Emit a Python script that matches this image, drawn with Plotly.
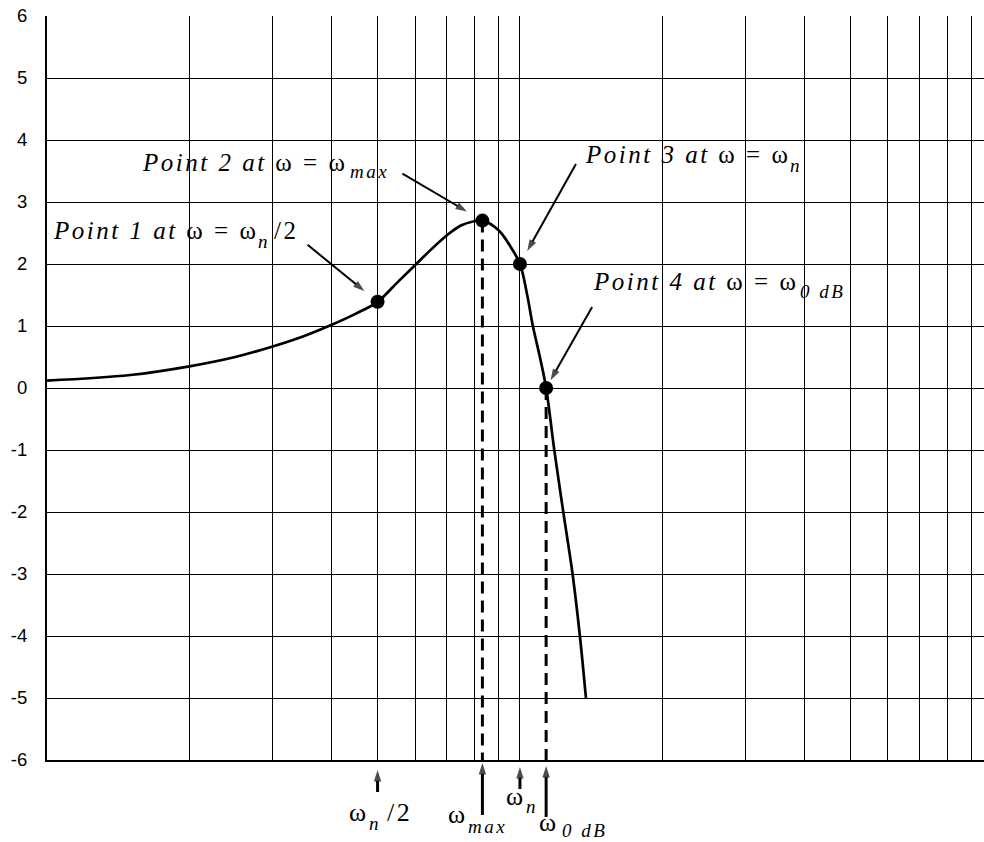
import math
import plotly.graph_objects as go

# Closed-loop magnitude response: frequency (rad/s) and gain (dB)
omega = [1.0, 1.5, 2.0, 2.5, 3.0, 3.5, 4.0, 4.5, 5.0, 5.5, 6.0, 6.5, 7.0, 7.5,
         8.0, 8.33, 9.0, 9.5, 10.0, 10.36, 10.65, 11.02, 11.36, 11.82, 12.35,
         12.92, 13.39, 13.79]
mag_db = [0.12, 0.21, 0.35, 0.50, 0.67, 0.84, 1.02, 1.20, 1.39, 1.70, 1.98, 2.24,
          2.46, 2.62, 2.69, 2.70, 2.55, 2.31, 2.00, 1.50, 1.00, 0.50, 0.00, -1.00,
          -2.00, -3.00, -4.00, -5.00]

# Marked points: wn/2, w_max, wn, w_0dB
point_omega = [5.0, 8.33, 10.0, 11.36]
point_db = [1.39, 2.70, 2.00, 0.00]

# Axis ticks
x_ticks = [1, 2, 3, 4, 5, 6, 7, 8, 9, 10, 20, 30, 40, 50, 60, 70, 80, 90]
y_ticks = [-6, -5, -4, -3, -2, -1, 0, 1, 2, 3, 4, 5, 6]
y_min, y_max = -6, 6

# Label pieces: (text, left edge px, baseline px, font size); subscripts are
# set as their own smaller pieces, dropped below the baseline.
point_label_parts = [
    [("<i>Point 1 at </i>ω = ω", 51.7, 239.3, 25), ("<i>n</i>", 257, 248, 19),
     ("/2", 273, 239.3, 25)],
    [("<i>Point 2 at </i>ω = ω", 140.7, 171, 25), ("<i>max</i>", 349, 178, 19)],
    [("<i>Point 3 at </i>ω = ω", 584, 163.3, 25), ("<i>n</i>", 788.5, 171.5, 19)],
    [("<i>Point 4 at </i>ω = ω", 591.7, 290, 25), ("<i>0 dB</i>", 798.5, 298, 19)],
]
axis_label_parts = [
    [("ω", 348.3, 821.7, 26), ("<i>n</i>", 367.5, 830, 19), ("/2", 386, 821.7, 26)],
    [("ω", 446.7, 823, 26), ("<i>max</i>", 467, 832.5, 19)],
    [("ω", 505, 805, 26), ("<i>n</i>", 524.5, 813, 19)],
    [("ω", 538.3, 831.7, 26), ("<i>0 dB</i>", 560.5, 837, 19)],
]

# Page geometry (pixels)
W, H = 984, 842
ML, MT, MR = 47, 16, 0
STRIP = 82                      # strip under the grid for the frequency markers
PW = W - ML - MR
PH = H - MT - STRIP             # height of the grid area
XR = math.log10(max(x_ticks)) + 0.027   # log10 span of the x axis
split = STRIP / (H - MT)
BASE = 0.3375                   # baseline below the text box centre, in em


def px_of(w, db):
    """Data point -> page pixel."""
    return ML + math.log10(w) / XR * PW, MT + (y_max - db) / (y_max - y_min) * PH


def data_of(xp, yp):
    """Page pixel -> data point of the grid area."""
    return 10 ** ((xp - ML) / PW * XR), y_max - (yp - MT) / PH * (y_max - y_min)


serif = "Liberation Serif, Times New Roman, serif"
sans = "Liberation Sans, Arial, sans-serif"

fig = go.Figure()

# Magnitude curve
fig.add_trace(go.Scatter(
    x=omega, y=mag_db, mode="lines",
    line=dict(color="black", width=2.7, shape="spline", smoothing=1.0),
    hoverinfo="skip", showlegend=False))

# Dashed drop lines from w_max and w_0dB to the axis
for i in (1, 3):
    fig.add_trace(go.Scatter(
        x=[point_omega[i], point_omega[i]], y=[point_db[i], y_min],
        mode="lines", line=dict(color="black", width=3, dash="12px,7px"),
        hoverinfo="skip", showlegend=False))

# Marked points
fig.add_trace(go.Scatter(
    x=point_omega, y=point_db, mode="markers",
    marker=dict(color="black", size=14), hoverinfo="skip", showlegend=False))


def arrow(xs, ys, width, head, xa="x", ya="y"):
    fig.add_trace(go.Scatter(
        x=xs, y=ys, xaxis=xa, yaxis=ya, mode="lines+markers",
        line=dict(color="black", width=width),
        marker=dict(symbol=["circle", "arrow"], size=[0, head],
                    angleref="previous", color="black", line=dict(width=0)),
        cliponaxis=False, hoverinfo="skip", showlegend=False))


# Pointer arrows: tail offset from the point (px) and gap left before it
arrow_off = [(-70, -57), (-80, -47), (56, -100), (46, -81)]
arrow_gap = [17, 18, 15, 9]
for i in range(4):
    cx, cy = px_of(point_omega[i], point_db[i])
    dx, dy = arrow_off[i]
    n = math.hypot(dx, dy)
    tail = data_of(cx + dx, cy + dy)
    tip = data_of(cx + dx / n * arrow_gap[i], cy + dy / n * arrow_gap[i])
    arrow([tail[0], tip[0]], [tail[1], tip[1]], 2, 12)

# Frequency markers under the grid (y2 measured in px up from the page bottom)
tip_y = [770, 763, 767, 766]
tail_y = [792, 815, 789, 817]
for i in range(4):
    arrow([point_omega[i], point_omega[i]], [H - tail_y[i], H - tip_y[i]],
          3, 12, xa="x2", ya="y2")

annotations = []
for parts in point_label_parts:
    for text, xl, yb, size in parts:
        annotations.append(dict(
            x=(xl - 1 - ML) / PW, y=(H - (yb - BASE * size)) / (H - MT),
            xref="paper", yref="paper", text=text,
            showarrow=False, xanchor="left", yanchor="middle", align="left",
            font=dict(family=serif, size=size, color="black")))

for parts in axis_label_parts:
    for text, xl, yb, size in parts:
        annotations.append(dict(
            x=(xl - 1 - ML) / PW * XR, y=H - (yb - BASE * size),
            xref="x2", yref="y2", text=text,
            showarrow=False, xanchor="left", yanchor="middle", align="left",
            font=dict(family=serif, size=size, color="black")))

fig.update_layout(
    width=W, height=H,
    margin=dict(l=ML, r=MR, t=MT, b=0, pad=0, autoexpand=False),
    paper_bgcolor="white", plot_bgcolor="white",
    annotations=annotations,
    xaxis=dict(
        type="log", range=[0, XR], anchor="y", automargin=False,
        tickvals=x_ticks, showticklabels=False, ticks="",
        showgrid=True, gridcolor="black", gridwidth=1,
        showline=True, linecolor="black", linewidth=2,
        zeroline=False, fixedrange=True),
    yaxis=dict(
        domain=[split, 1], anchor="x", automargin=False,
        range=[y_min, y_max], tickvals=y_ticks,
        ticktext=[str(v) for v in y_ticks], ticks="",
        tickfont=dict(family=sans, size=18.5, color="black"),
        ticklabelstandoff=14,
        showgrid=True, gridcolor="black", gridwidth=1,
        showline=True, linecolor="black", linewidth=2,
        zeroline=False, fixedrange=True),
    xaxis2=dict(type="log", range=[0, XR], anchor="y2", visible=False,
                automargin=False, fixedrange=True),
    yaxis2=dict(domain=[0, split], anchor="x2", range=[0, STRIP],
                visible=False, automargin=False, fixedrange=True),
)

spacing_js = (
    "document.querySelectorAll('.annotation-text').forEach(function(t){"
    "t.style.letterSpacing='2.5px';});"
)

fig.write_html("out.html", post_script=spacing_js,
               config={"displayModeBar": False, "staticPlot": True})
